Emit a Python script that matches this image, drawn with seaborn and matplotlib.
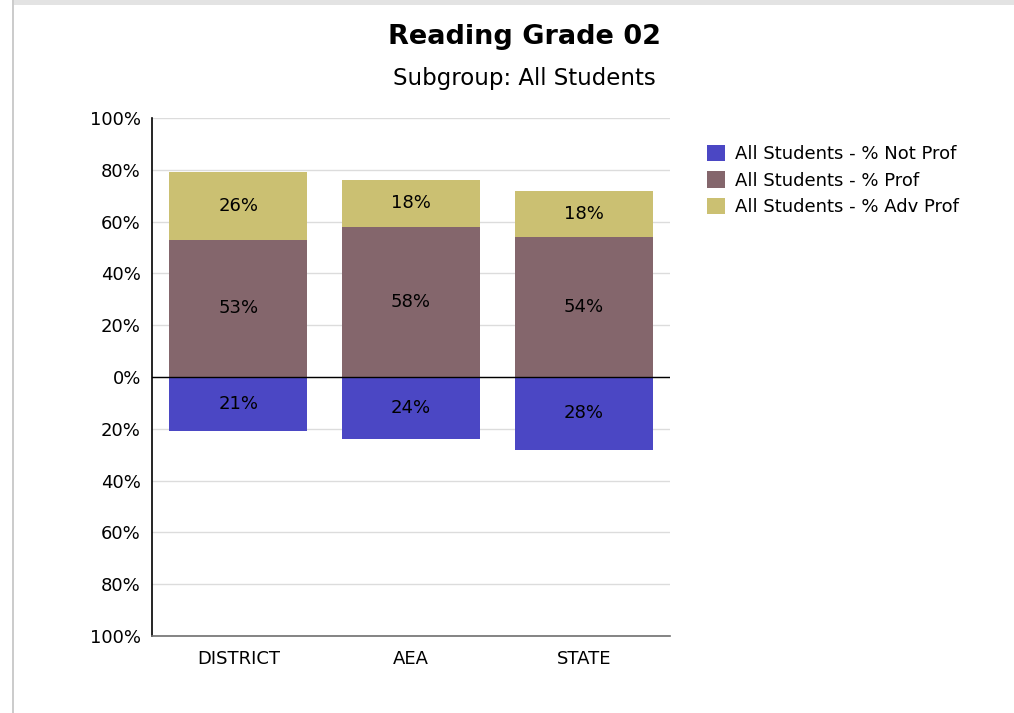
import matplotlib
matplotlib.use("Agg")
import matplotlib.pyplot as plt
import seaborn as sns
import pandas as pd
import numpy as np
from matplotlib.patches import Patch, Rectangle

categories = ["DISTRICT", "AEA", "STATE"]
not_prof = [21, 24, 28]
prof = [53, 58, 54]
adv_prof = [26, 18, 18]
series_names = ["All Students - % Not Prof", "All Students - % Prof", "All Students - % Adv Prof"]
colors = ["#4B47C4", "#84666C", "#CBC072"]
yticks = [-100, -80, -60, -40, -20, 0, 20, 40, 60, 80, 100]

sns.set_theme(style="white")
plt.rcParams['font.family'] = ['DejaVu Sans']
plt.rcParams['text.color'] = 'black'
plt.rcParams['xtick.color'] = 'black'
plt.rcParams['ytick.color'] = 'black'

df = pd.DataFrame({
    "cat": categories,
    "neg": [-v for v in not_prof],
    "prof": prof,
    "total": [p + a for p, a in zip(prof, adv_prof)],
})

fig = plt.figure(figsize=(10.14, 7.13), dpi=100)
ax = fig.add_axes([152/1014, 1-636/713, (670-152)/1014, (636-118)/713])

for y in yticks:
    ax.axhline(y, color="#dcdcdc", lw=1, zorder=0)

bar_kw = dict(saturation=1, width=0.8, ax=ax, zorder=2, linewidth=0, edgecolor="none")
sns.barplot(data=df, x="cat", y="total", color=colors[2], **bar_kw)
sns.barplot(data=df, x="cat", y="prof", color=colors[1], **bar_kw)
sns.barplot(data=df, x="cat", y="neg", color=colors[0], **bar_kw)

ax.axhline(0, color="black", lw=1, zorder=3)

for i in range(len(categories)):
    ax.text(i, prof[i] + adv_prof[i] / 2, f"{adv_prof[i]}%", ha="center", va="center", fontsize=13, color="black", zorder=4)
    ax.text(i, prof[i] / 2, f"{prof[i]}%", ha="center", va="center", fontsize=13, color="black", zorder=4)
    ax.text(i, -not_prof[i] / 2, f"{not_prof[i]}%", ha="center", va="center", fontsize=13, color="black", zorder=4)

ax.set_xlim(-0.5, 2.5)
ax.set_ylim(-100, 100)
ax.set_yticks(yticks)
ax.set_yticklabels([f"{abs(v)}%" for v in yticks], fontsize=13)
ax.set_xticks(range(len(categories)))
ax.set_xticklabels(categories, fontsize=13)
ax.set_xlabel("")
ax.set_ylabel("")
ax.tick_params(axis="y", length=0, pad=8)
ax.tick_params(axis="x", length=0, pad=10)
for s in ["top", "right"]:
    ax.spines[s].set_visible(False)
ax.spines["left"].set_color("black")
ax.spines["left"].set_linewidth(1.2)
ax.spines["bottom"].set_color("#707070")
ax.spines["bottom"].set_linewidth(1.2)

fig.text(524/1014, 1-37/713, "Reading Grade 02", ha="center", va="center", fontsize=19.5, fontweight="bold", color="black")
fig.text(524/1014, 1-78/713, "Subgroup: All Students", ha="center", va="center", fontsize=16.5, color="black")

handles = [Patch(facecolor=c, edgecolor="none") for c in colors]
fig.legend(handles, series_names, loc="upper left", bbox_to_anchor=(707/1014, 1-145/713),
           frameon=False, fontsize=13, handlelength=1.0, handleheight=1.0,
           handletextpad=0.55, labelspacing=0.45, borderaxespad=0, borderpad=0)

# page decoration: top gray band and left border
fig.patches.append(Rectangle((12/1014, 1-5/713), 1, 5/713, transform=fig.transFigure, facecolor="#e3e3e3", edgecolor="none"))
fig.patches.append(Rectangle((12/1014, 0), 2/1014, 1, transform=fig.transFigure, facecolor="#cccccc", edgecolor="none"))

fig.savefig("out.png", dpi=100)
